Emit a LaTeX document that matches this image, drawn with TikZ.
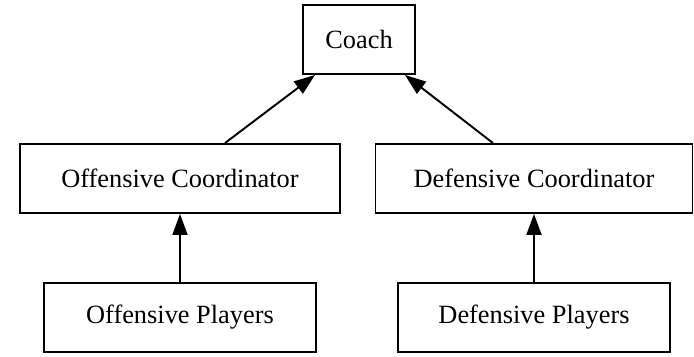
\documentclass[tikz,border=0pt]{standalone}
\usepackage{fontspec}
\setmainfont{Liberation Serif}
\usetikzlibrary{arrows.meta}

\begin{document}
\begin{tikzpicture}[
    box/.style={draw, line width=1.1pt, minimum height=1.38cm, inner sep=0pt, font=\fontsize{15}{18}\selectfont},
    arr/.style={line width=1.1pt, -{Triangle[length=0.42cm, width=0.3cm]}}
  ]
      \useasboundingbox (0,0) rectangle (13.88,-7.12);

      \node[box, minimum width=2.24cm] (coach) at (7.18,-0.79) {Coach};
      \node[box, minimum width=6.4cm] (offcoord) at (3.6,-3.57) {Offensive Coordinator};
      \node[box, minimum width=6.34cm] (defcoord) at (10.68,-3.57) {Defensive Coordinator};
      \node[box, minimum width=5.44cm] (offplay) at (3.6,-6.35) {Offensive Players};
      \node[box, minimum width=5.44cm] (defplay) at (10.68,-6.35) {Defensive Players};

      \draw[arr] ([xshift=0.9cm]offcoord.north) -- ([xshift=-0.88cm]coach.south);
      \draw[arr] ([xshift=-0.82cm]defcoord.north) -- ([xshift=0.92cm]coach.south);
      \draw[arr] (offplay) -- (offcoord);
      \draw[arr] (defplay) -- (defcoord);

    \end{tikzpicture}
\end{document}
